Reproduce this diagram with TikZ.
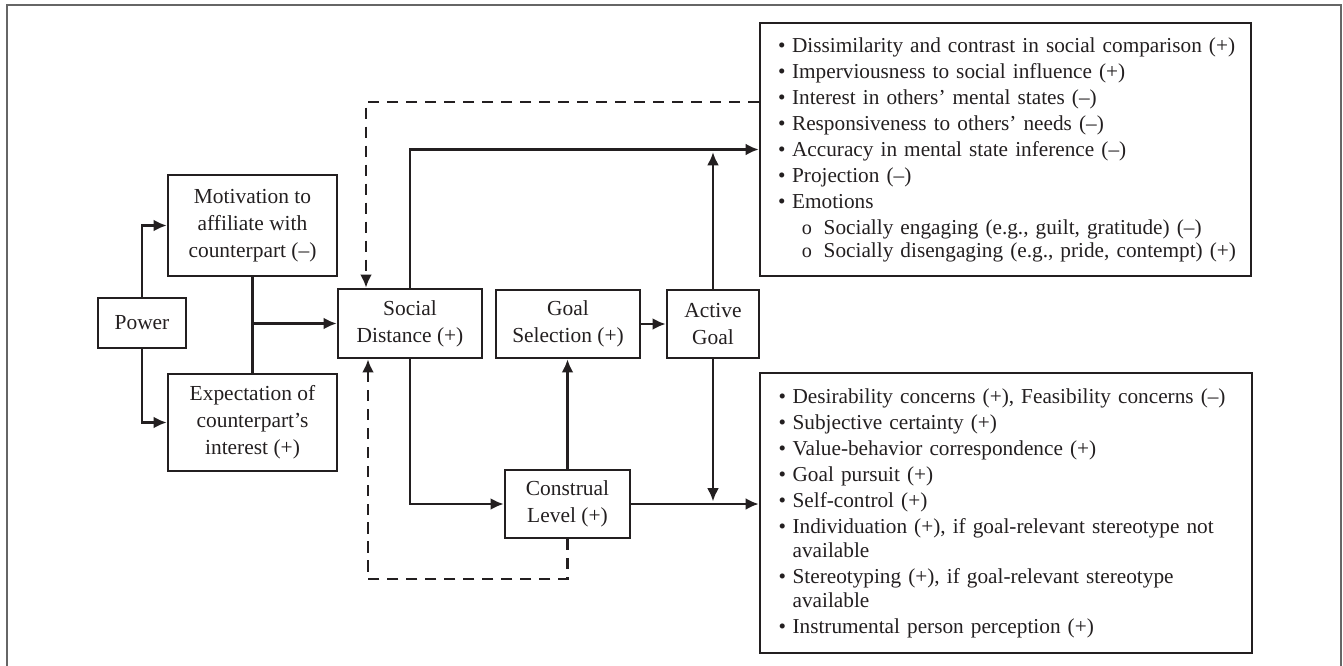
\documentclass[tikz,border=0pt]{standalone}
\usepackage{fontspec}
\setmainfont{Liberation Serif}
\usepackage{tikz}
\usetikzlibrary{arrows.meta}
\tikzset{>={Latex[length=7.5pt,width=6.8pt]}}
\definecolor{inkblack}{HTML}{231f20}
\definecolor{framegray}{HTML}{666666}
\newcommand{\lbul}{\makebox[8pt][l]{\textbullet}}
\newcommand{\lsub}{\hspace*{13.5pt}\makebox[12.5pt][l]{\fontsize{11.5}{11.5}\selectfont o}}
\newcommand{\lcont}{\hspace*{8pt}}

\begin{document}
\begin{tikzpicture}[x=0.02cm,y=-0.02cm,
	box/.style={draw=inkblack,line width=1.5pt,align=center,inner sep=0pt,text=inkblack,font=\fontsize{12.2}{15.3}\selectfont},
	listbox/.style={draw=inkblack,line width=1.5pt,align=left,inner xsep=0.36cm,inner ysep=0pt,text width=9.1cm,text=inkblack,font=\fontsize{12.1}{14.8}\selectfont},
	link/.style={draw=inkblack,line width=1.4pt,->},
	feedback/.style={draw=inkblack,line width=1.4pt,->,dash pattern=on 6.3pt off 4.5pt}]
	\useasboundingbox (0,0) rectangle (1343,666);
	\draw [framegray,line width=0.9pt] (7,666) -- (7,5) -- (1341,5) -- (1341,666);

	\node [box,minimum width=1.76cm,minimum height=1cm] (power) at (142,323) {Power};
	\node [box,minimum width=3.38cm,minimum height=2.02cm] (motiv) at (252.5,225.5) {Motivation to\\affiliate with\\counterpart (–)};
	\node [box,minimum width=3.38cm,minimum height=1.94cm] (expect) at (252.5,422.5) {Expectation of\\counterpart’s\\interest (+)};
	\node [box,minimum width=2.88cm,minimum height=1.38cm] (social) at (410,323.5) {Social\\Distance (+)};
	\node [box,minimum width=2.88cm,minimum height=1.36cm] (goal) at (568,324) {Goal\\Selection (+)};
	\node [box,minimum width=1.84cm,minimum height=1.36cm] (active) at (713,324) {Active\\Goal};
	\node [box,minimum width=2.5cm,minimum height=1.36cm] (constr) at (567.5,504) {Construal\\Level (+)};

	\node [listbox,minimum width=9.82cm,minimum height=5.06cm] (upper) at (1005.5,149.5) {\mbox{\lbul Dissimilarity and contrast in social comparison (+)}\\
		\mbox{\lbul Imperviousness to social influence (+)}\\
		\mbox{\lbul Interest in others’ mental states (–)}\\
		\mbox{\lbul Responsiveness to others’ needs (–)}\\
		\mbox{\lbul Accuracy in mental state inference (–)}\\
		\mbox{\lbul Projection (–)}\\
		\mbox{\lbul Emotions}\\
		\mbox{\lsub Socially engaging (e.g., guilt, gratitude) (–)}\\[-1.8pt]
		\mbox{\lsub Socially disengaging (e.g., pride, contempt) (+)}};
	\node [listbox,minimum width=9.84cm,minimum height=5.6cm] (lower) at (1006,513) {\mbox{\lbul Desirability concerns (+), Feasibility concerns (–)}\\
		\mbox{\lbul Subjective certainty (+)}\\
		\mbox{\lbul Value-behavior correspondence (+)}\\
		\mbox{\lbul Goal pursuit (+)}\\
		\mbox{\lbul Self-control (+)}\\
		\mbox{\lbul Individuation (+), if goal-relevant stereotype not}\\[-1.1pt]
		\mbox{\lcont available}\\
		\mbox{\lbul Stereotyping (+), if goal-relevant stereotype}\\[-1.1pt]
		\mbox{\lcont available}\\
		\mbox{\lbul Instrumental person perception (+)}};

	\coordinate (join) at (motiv.south |- social.west);
	\coordinate (fbtop) at (366,102);
	\coordinate (fbbot) at (368,579);

	\draw [link] (power.north) |- (motiv.west);
	\draw [link] (power.south) |- (expect.west);
	\draw [inkblack,line width=1.4pt] (motiv.south) -- (expect.north);
	\draw [link] (join) -- (social.west);
	\draw [link] (social.north) |- (upper.west);
	\draw [link] (social.south) |- (constr.west);
	\draw [link] (constr.north) -- (constr.north |- goal.south);
	\draw [link] (goal.east) -- (active.west);
	\draw [link,shorten >=1.5pt] (active.north) -- (active.north |- upper.west);
	\draw [link,shorten >=1.5pt] (active.south) -- (active.south |- constr.east);
	\draw [link] (constr.east) -- (constr.east -| lower.west);
	\draw [feedback] (upper.west |- fbtop) -- (fbtop) -- (fbtop |- social.north);
	\draw [feedback] (constr.south) -- (constr.south |- fbbot) -- (fbbot) -- (fbbot |- social.south);
\end{tikzpicture}
\end{document}
